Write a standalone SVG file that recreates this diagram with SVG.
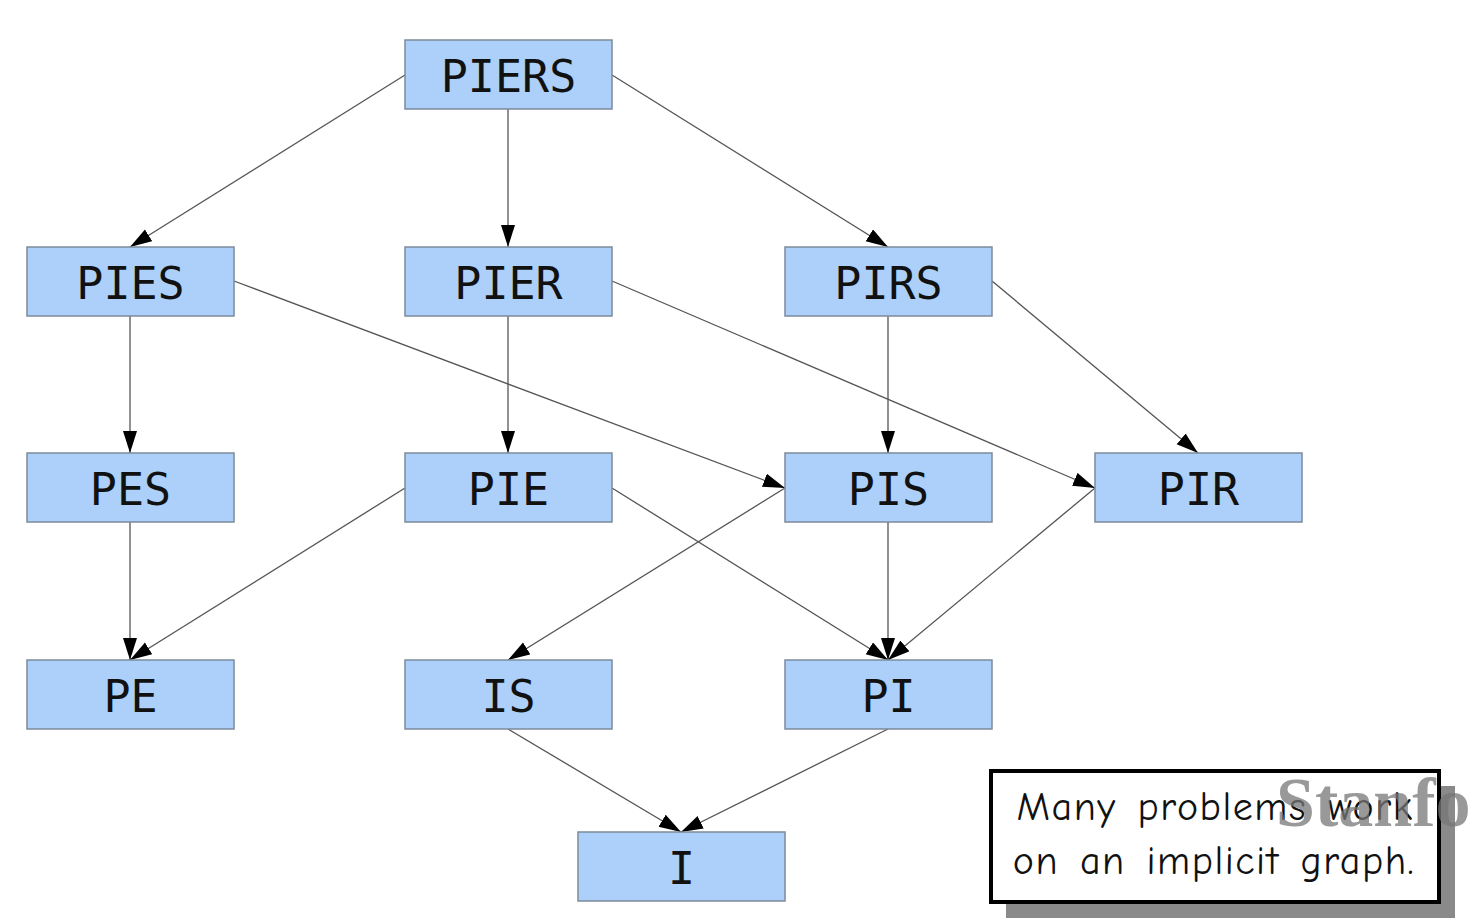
<svg xmlns="http://www.w3.org/2000/svg" width="1468" height="920" viewBox="0 0 1468 920">
<style>
.node rect{fill:#acd0f9;stroke:#7c8a9a;stroke-width:1.5}
.node text{font-family:"DejaVu Sans Mono",monospace;font-size:45px;fill:#111;text-anchor:middle;dominant-baseline:central}
.edges line{stroke:#555;stroke-width:1.3;marker-end:url(#ah)}
.note{font-family:"Comic Neue","DejaVu Sans",sans-serif;font-size:40px;letter-spacing:1.5px;word-spacing:6px;fill:#111;text-anchor:middle}
</style>
<defs>
<marker id="ah" markerUnits="userSpaceOnUse" markerWidth="24" markerHeight="16" refX="22" refY="7" orient="auto">
<path d="M0,0 L22,7 L0,14 z" fill="#000"/>
</marker>
</defs>
<rect width="1468" height="920" fill="#fff"/>
<g class="edges">
<line x1="405" y1="75" x2="130" y2="247"/>
<line x1="508" y1="109" x2="508" y2="247"/>
<line x1="612" y1="75" x2="888" y2="247"/>
<line x1="130" y1="316" x2="130" y2="453"/>
<line x1="234" y1="281" x2="785" y2="488"/>
<line x1="508" y1="316" x2="508" y2="453"/>
<line x1="612" y1="281" x2="1095" y2="488"/>
<line x1="888" y1="316" x2="888" y2="453"/>
<line x1="992" y1="281" x2="1198" y2="453"/>
<line x1="130" y1="522" x2="130" y2="660"/>
<line x1="405" y1="488" x2="130" y2="660"/>
<line x1="612" y1="488" x2="888" y2="660"/>
<line x1="785" y1="488" x2="508" y2="660"/>
<line x1="888" y1="522" x2="888" y2="660"/>
<line x1="1095" y1="488" x2="888" y2="660"/>
<line x1="508" y1="729" x2="681" y2="832"/>
<line x1="888" y1="729" x2="681" y2="832"/>
</g>
<g id="PIERS" class="node"><rect x="405" y="40" width="207" height="69"/><text x="508.5" y="76">PIERS</text></g>
<g id="PIES" class="node"><rect x="27" y="247" width="207" height="69"/><text x="130.5" y="283">PIES</text></g>
<g id="PIER" class="node"><rect x="405" y="247" width="207" height="69"/><text x="508.5" y="283">PIER</text></g>
<g id="PIRS" class="node"><rect x="785" y="247" width="207" height="69"/><text x="888.5" y="283">PIRS</text></g>
<g id="PES" class="node"><rect x="27" y="453" width="207" height="69"/><text x="130.5" y="489">PES</text></g>
<g id="PIE" class="node"><rect x="405" y="453" width="207" height="69"/><text x="508.5" y="489">PIE</text></g>
<g id="PIS" class="node"><rect x="785" y="453" width="207" height="69"/><text x="888.5" y="489">PIS</text></g>
<g id="PIR" class="node"><rect x="1095" y="453" width="207" height="69"/><text x="1198.5" y="489">PIR</text></g>
<g id="PE" class="node"><rect x="27" y="660" width="207" height="69"/><text x="130.5" y="696">PE</text></g>
<g id="IS" class="node"><rect x="405" y="660" width="207" height="69"/><text x="508.5" y="696">IS</text></g>
<g id="PI" class="node"><rect x="785" y="660" width="207" height="69"/><text x="888.5" y="696">PI</text></g>
<g id="I" class="node"><rect x="578" y="832" width="207" height="69"/><text x="681.5" y="868">I</text></g>
<g id="note">
<rect x="1006" y="786" width="449" height="132" fill="#8a8a8a"/>
<rect x="991" y="771" width="448" height="131" fill="#fff" stroke="#000" stroke-width="4"/>
<text class="note" x="1215" y="820">Many problems work</text>
<text class="note" x="1214" y="874">on an implicit graph.</text>
</g>
<text x="1276" y="826" font-family="Liberation Serif,serif" font-weight="bold" font-size="70" fill="#777" opacity="0.75">Stanfo</text>
</svg>
